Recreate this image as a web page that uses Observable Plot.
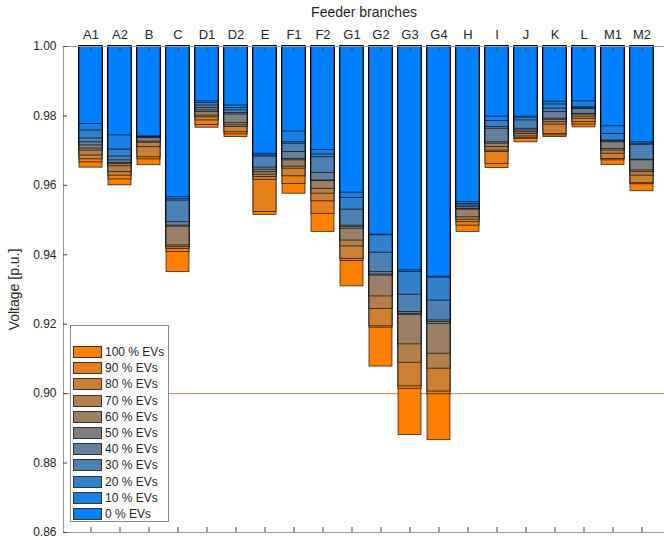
<!DOCTYPE html>
<html><head><meta charset="utf-8">
<script src="https://cdn.jsdelivr.net/npm/d3@7"></script>
<script src="https://cdn.jsdelivr.net/npm/@observablehq/plot@0.6"></script>
<style>
body{margin:0;background:#fff;font-family:"Liberation Sans",Arial,sans-serif;}
#wrap{position:relative;width:664px;height:540px;overflow:hidden;}
#legend{position:absolute;left:70px;top:325px;width:99px;height:197px;border:1px solid #8a8a8a;background:#fff;box-sizing:border-box;padding-top:18px;padding-left:2px;}
.row{height:16.2px;display:flex;align-items:center;font-size:12px;color:#262626;}
.sw{width:27px;height:10px;border:1px solid #333;margin-right:3px;flex:none;}
</style></head><body><div id="wrap"></div>
<script>
const branches = ["A1","A2","B","C","D1","D2","E","F1","F2","G1","G2","G3","G4","H","I","J","K","L","M1","M2"];
const levelLabels = ["0 % EVs","10 % EVs","20 % EVs","30 % EVs","40 % EVs","50 % EVs","60 % EVs","70 % EVs","80 % EVs","90 % EVs","100 % EVs"];
const levelColors = ["#0080ff","#1a80e6","#3380cc","#4d80b3","#668099","#808080","#998066","#b3804d","#cc8033","#e6801a","#ff8000"];
const yTicks = [0.86,0.88,0.90,0.92,0.94,0.96,0.98,1.00];
const limitV = [0.90];

const ev0  = [.9777,.9744,.9741,.9566,.9842,.9830,.9691,.9755,.9702,.9579,.9458,.9355,.9337,.9552,.9798,.9798,.9841,.9842,.9770,.9724];
const ev10 = [.9758,.9703,.9740,.9560,.9837,.9823,.9686,.9724,.9689,.9564,.9456,.9350,.9334,.9547,.9785,.9795,.9833,.9825,.9748,.9720];
const ev20 = [.9735,.9683,.9739,.9556,.9830,.9816,.9683,.9720,.9681,.9530,.9406,.9285,.9268,.9542,.9768,.9787,.9821,.9822,.9729,.9717];
const ev30 = [.9724,.9672,.9738,.9494,.9823,.9808,.9651,.9696,.9636,.9484,.9350,.9235,.9211,.9537,.9763,.9763,.9811,.9820,.9727,.9674];
const ev40 = [.9715,.9665,.9737,.9484,.9816,.9804,.9645,.9676,.9614,.9480,.9343,.9230,.9206,.9532,.9724,.9758,.9792,.9806,.9724,.9672];
const ev50 = [.9706,.9662,.9726,.9481,.9811,.9779,.9638,.9672,.9612,.9475,.9340,.9227,.9201,.9530,.9720,.9753,.9789,.9804,.9705,.9643];
const ev60 = [.9700,.9655,.9723,.9427,.9801,.9773,.9631,.9654,.9590,.9441,.9280,.9142,.9115,.9508,.9710,.9748,.9782,.9798,.9700,.9638];
const ev70 = [.9686,.9638,.9710,.9422,.9796,.9768,.9624,.9648,.9576,.9424,.9244,.9089,.9072,.9501,.9700,.9741,.9775,.9792,.9691,.9628];
const ev80 = [.9675,.9628,.9681,.9417,.9787,.9753,.9616,.9626,.9554,.9388,.9194,.9021,.9006,.9494,.9696,.9737,.9748,.9782,.9676,.9606];
const ev90 = [.9666,.9617,.9675,.9408,.9774,.9747,.9523,.9604,.9518,.9382,.9190,.9014,.8998,.9484,.9662,.9734,.9744,.9775,.9672,.9603];
const ev100= [.9651,.9600,.9658,.9350,.9766,.9739,.9515,.9576,.9466,.9309,.9078,.8881,.8866,.9466,.9650,.9724,.9739,.9767,.9659,.9583];
const series = [ev0,ev10,ev20,ev30,ev40,ev50,ev60,ev70,ev80,ev90,ev100];

const rows = [];
for (let k = series.length - 1; k >= 0; k--) {
  branches.forEach((b, i) => rows.push({branch: b, level: levelLabels[k], v: series[k][i]}));
}

const font = "'Liberation Sans', Arial, sans-serif";
const chart = Plot.plot({
  width: 664, height: 540,
  marginTop: 46, marginBottom: 8, marginLeft: 63, marginRight: 0,
  style: {fontFamily: font, fontSize: "12px", color: "#262626", background: "white", overflow: "hidden"},
  x: {domain: branches, range: [63, 670], paddingInner: 0.204, paddingOuter: 0.467, axis: null},
  y: {domain: [0.86, 1.0], axis: null},
  color: {domain: levelLabels, range: levelColors},
  marks: [
    Plot.ruleY(limitV, {stroke: "#D95319", strokeWidth: 0.8}),
    Plot.barY(rows, {x: "branch", y1: 1, y2: "v", fill: "level", stroke: "black", strokeOpacity: 0.8, strokeWidth: 0.8}),
    Plot.ruleY([0.86, 1.0], {stroke: "#9a9a9a", strokeWidth: 1}),
    Plot.frame({anchor: "left", stroke: "#9a9a9a"}),
    Plot.axisX({anchor: "top", tickSize: 0, tickPadding: 8, fontSize: 13, label: "Feeder branches", labelAnchor: "center", labelArrow: "none", labelOffset: 39}),
    Plot.axisX({anchor: "top", tickSize: -4, text: null, label: null, stroke: "#444"}),
    Plot.axisX({anchor: "bottom", tickSize: -5, text: null, label: null, stroke: "#444"}),
    Plot.axisY({anchor: "left", ticks: yTicks, tickFormat: d3.format(".2f"), tickSize: 0, tickPadding: 7, fontSize: 12, label: "Voltage [p.u.]", labelAnchor: "center", labelArrow: "none", labelOffset: 54}),
    Plot.axisY({anchor: "left", ticks: yTicks, tickSize: -4, text: null, label: null, stroke: "#444"})
  ]
});
// enlarge axis titles to match reference
chart.querySelectorAll("g[aria-label='x-axis label'] text, g[aria-label='y-axis label'] text").forEach(t => t.setAttribute("font-size", "14"));
const wrap = document.getElementById("wrap");
wrap.appendChild(chart);

const legend = document.createElement("div");
legend.id = "legend";
for (let k = levelLabels.length - 1; k >= 0; k--) {
  const r = document.createElement("div");
  r.className = "row";
  const s = document.createElement("div");
  s.className = "sw";
  s.style.background = levelColors[k];
  const t = document.createElement("span");
  t.textContent = levelLabels[k];
  r.appendChild(s); r.appendChild(t);
  legend.appendChild(r);
}
wrap.appendChild(legend);
</script>
</body></html>
